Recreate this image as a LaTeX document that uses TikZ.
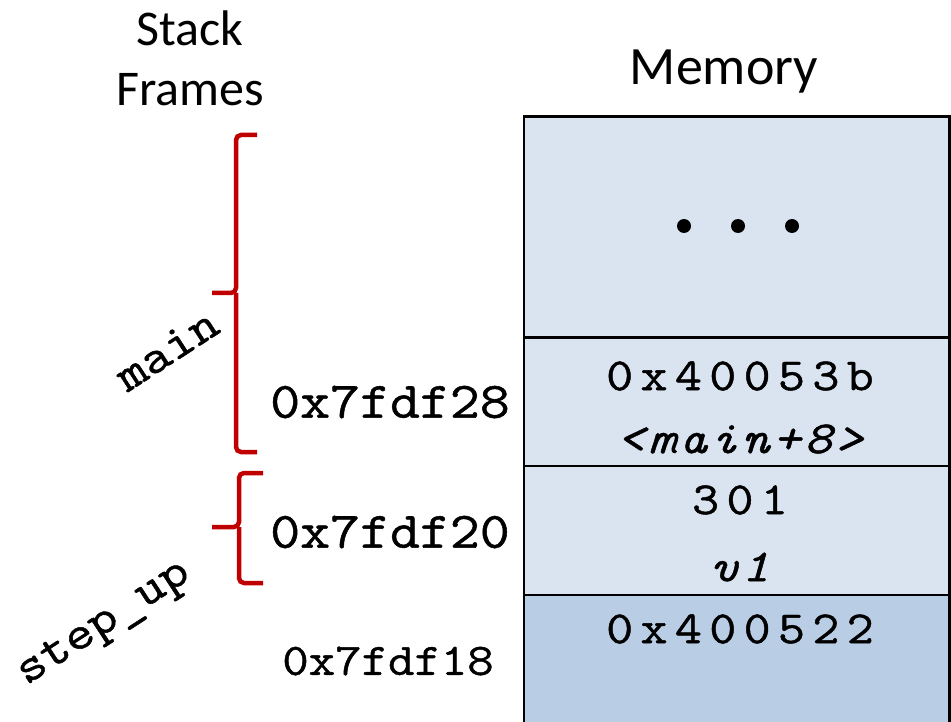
\documentclass[tikz,border=0pt]{standalone}
\usepackage{fontspec}
\setmainfont{Carlito}
\newfontfamily\codefont[FakeStretch=1.14, FakeBold=1]{Latin Modern Mono}
\newfontfamily\valfont[FakeStretch=1.14, FakeBold=1, LetterSpace=16]{Latin Modern Mono}
\newfontfamily\tagfont[FakeStretch=1.14, FakeBold=1, LetterSpace=8]{Latin Modern Mono}
\usetikzlibrary{positioning}
\definecolor{memhell}{HTML}{DAE3F0}
\definecolor{memdunkel}{HTML}{B9CDE5}
\definecolor{framerot}{HTML}{C00000}

\begin{document}
\begin{tikzpicture}[x=1pt, y=-1pt]

    % --- Stile ---
    \tikzset{
        cell/.style={rectangle, draw=black, line width=2.6pt, minimum width=425.5pt, inner sep=0pt, fill=memhell},
        darkcell/.style={cell, fill=memdunkel},
        title/.style={font=\fontsize{54}{60}\selectfont, align=center, inner sep=0pt},
        addr/.style={font=\codefont\fontsize{51}{56}\selectfont, inner sep=0pt},
        val/.style={font=\valfont\fontsize{46}{50}\selectfont, inner sep=0pt},
        tag/.style={font=\tagfont\itshape\fontsize{46}{50}\selectfont, inner sep=0pt},
        stackbrace/.style={draw=framerot, line width=4.5pt, rounded corners=5pt},
        fname/.style={font=\codefont\fontsize{48}{52}\selectfont, rotate=33, inner sep=0pt}
    }

    \useasboundingbox (0,0) rectangle (951,722);

    % --- Überschriften ---
    \node[title, font=\fontsize{50}{60}\selectfont] (stack) at (190,58) {Stack\\Frames};
    \node[title] (memory) at (724,72) {Memory};

    % --- Speicherzellen ---
    \node[cell, minimum height=221pt]    (oben)  at (736.75,227)   {};
    \node[cell, minimum height=128.5pt]  (z28)   at (736.75,401.75) {};
    \node[cell, minimum height=129pt]    (z20)   at (736.75,530.5) {};
    \node[darkcell, minimum height=150pt] (z18)  at (736.75,670)   {};

    % Punkte
    \foreach \x in {684,738,792}
        \fill (\x,226) circle (7pt);

    % Inhalte
    \node[val] (ret)    at (740,376) {0x40053b};
    \node[tag] (rettag) at (740,439) {<main+8>};
    \node[val] (wert)   at (740,500) {301};
    \node[tag] (name)   at (740,567) {v1};
    \node[val] (ret2)   at (740,629) {0x400522};

    % --- Adressen ---
    \node[addr] (a28) at (390,402) {0x7fdf28};
    \node[addr] (a20) at (390,532) {0x7fdf20};
    \node[addr, font=\codefont\fontsize{45}{50}\selectfont] (a18) at (388,661) {0x7fdf18};

    % --- Klammern der Stack Frames ---
    \draw[stackbrace] (257,135) -- (236,135) -- (236,293) -- (212,293);
    \draw[stackbrace] (236,293) -- (236,452) -- (257,452);
    \draw[stackbrace] (263,473) -- (239,473) -- (239,527) -- (212,527);
    \draw[stackbrace] (239,527) -- (239,583) -- (263,583);

    \node[fname] (mainname) at (167,350) {main};
    \node[fname] (stepname) at (105,625) {step\_up};

\end{tikzpicture}
\end{document}
